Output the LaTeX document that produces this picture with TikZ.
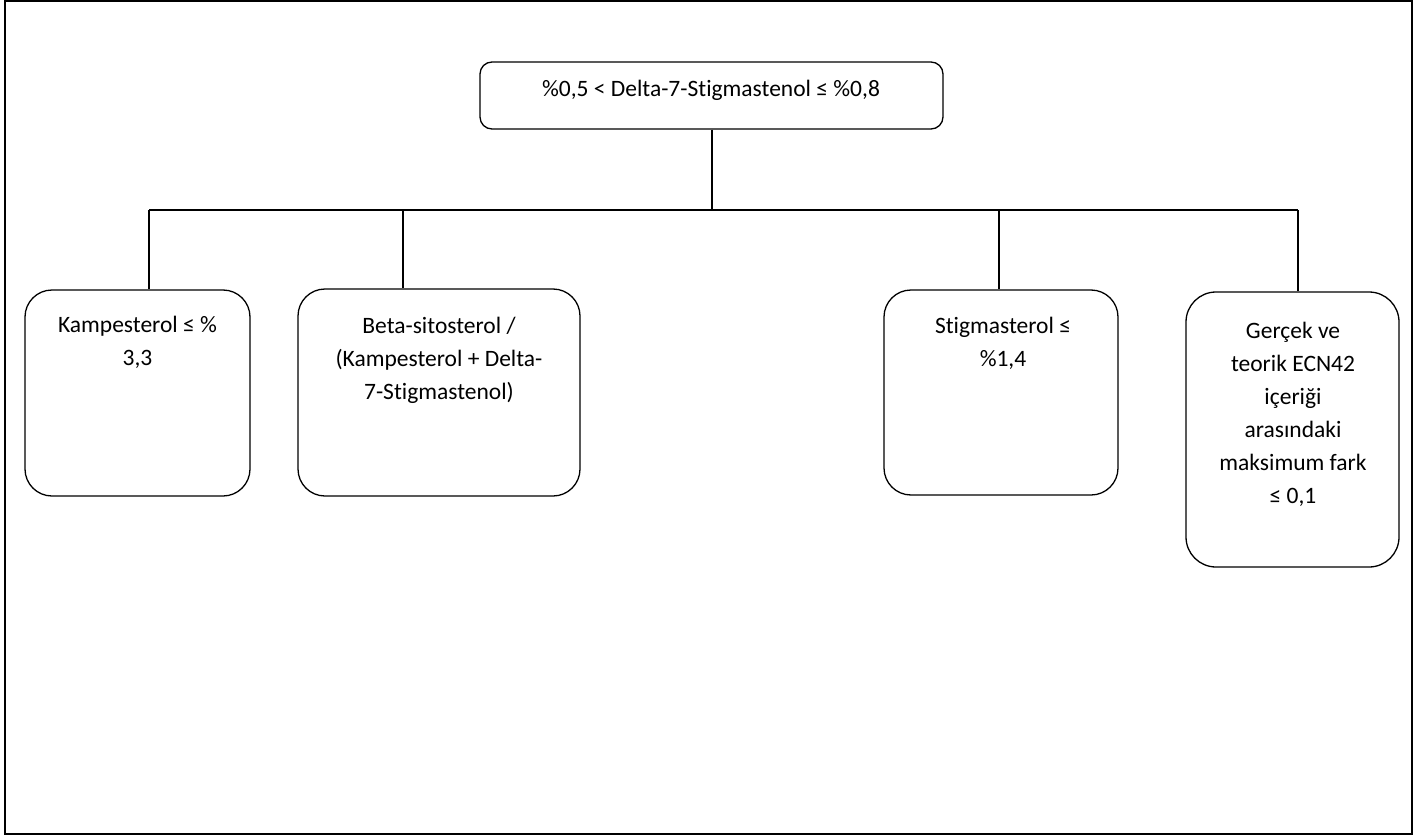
\documentclass[tikz,border=0pt]{standalone}
\usepackage{fontspec}
\setmainfont{Carlito}[Ligatures={NoCommon,NoRare,NoContextual}]
\begin{document}
\begin{tikzpicture}[x=1pt,y=-1pt]
\tikzset{
  bx/.style={draw, line width=1.3pt, rounded corners=27pt, inner sep=0pt},
  txt/.style={inner sep=0pt, anchor=base, font=\fontsize{23.5}{33}\selectfont},
  ln/.style={line width=1.3pt}
}
\useasboundingbox (0,0) rectangle (1418,840);
\draw[line width=2.5pt] (5,1.25) rectangle (1412,834);

% boxes
\node[bx, rounded corners=12pt, minimum width=463pt, minimum height=67pt] (top) at (711.5,95.5) {};
\node[bx, minimum width=225pt, minimum height=206pt] (b1) at (137.5,393) {};
\node[bx, minimum width=282pt, minimum height=207pt] (b2) at (439,392.5) {};
\node[bx, minimum width=234pt, minimum height=205pt] (b3) at (1001,392.5) {};
\node[bx, rounded corners=30pt, minimum width=213pt, minimum height=275pt] (b4) at (1292.5,429.5) {};

% texts
\node[txt] (toptxt) at (711,97) {\%0,5 < Delta-7-Stigmastenol ≤ \%0,8};
\node[txt] (t1) at (137.5,332) {\parbox[t]{210pt}{\centering Kampesterol ≤ \%\\3,3}};
\node[txt] (t2) at (439,333) {\parbox[t]{270pt}{\centering Beta-sitosterol /\\(Kampesterol + Delta-\\7-Stigmastenol)}};
\node[txt] (t3) at (1003,333) {\parbox[t]{220pt}{\centering Stigmasterol ≤\\\%1,4}};
\node[txt] (t4) at (1293,338) {\parbox[t]{200pt}{\centering Gerçek ve\\teorik ECN42\\içeriği\\arasındaki\\maksimum fark\\≤ 0,1}};

% connectors
\coordinate (bus) at (712,210);
\coordinate (bL) at (149,210);
\coordinate (bR) at (1298,210);
\coordinate (d2) at (403,210);
\coordinate (d3) at (999,210);
\draw[ln] (top.south -| bus) -- (bus);
\draw[ln] (bL) -- (bR);
\draw[ln] (bL) -- (bL |- b1.north);
\draw[ln] (d2) -- (d2 |- b2.north);
\draw[ln] (d3) -- (d3 |- b3.north);
\draw[ln] (bR) -- (bR |- b4.north);
\end{tikzpicture}
\end{document}
